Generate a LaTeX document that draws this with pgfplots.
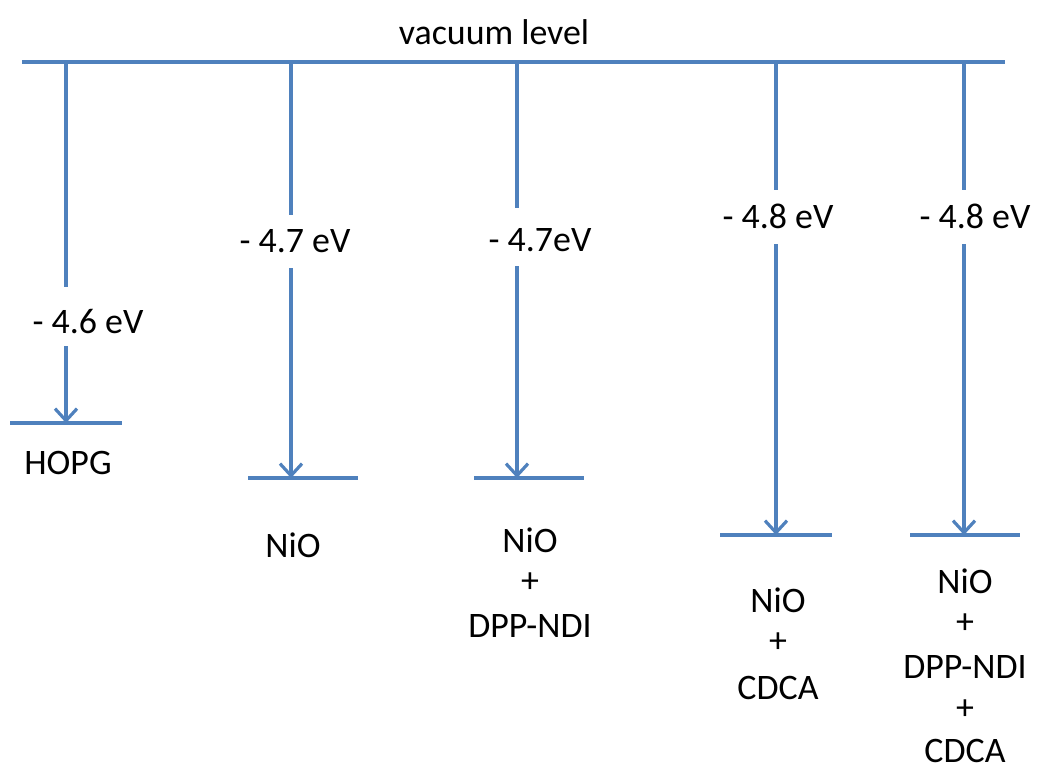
\documentclass[border=0pt]{standalone}
\usepackage{pgfplots}
\pgfplotsset{compat=1.18}
\usepackage{fontspec}
\setmainfont{Carlito}
\usetikzlibrary{arrows.meta}
\definecolor{lvl}{HTML}{4F81BD}
\tikzset{lab/.style={font=\fontsize{36}{40}\selectfont, text=black, inner sep=0pt},
  lv/.style={lvl, line width=3.2bp, mark=none, solid},
  la/.style={lv, -{Straight Barb[length=12bp,width=22bp,line width=3.2bp]}}}
\begin{document}
\begin{tikzpicture}[x=1bp,y=1bp]
\begin{axis}[
  width=1038bp, height=771bp, scale only axis,
  xmin=0, xmax=1038, ymin=0, ymax=771, y dir=reverse,
  hide axis, clip=false,
]
% vacuum level
\addplot[lv] coordinates {(22,62) (1005,62)};
% HOPG
\addplot[lv] coordinates {(66,62) (66,287)};
\addplot[la] coordinates {(66,346) (66,423)};
\addplot[lv] coordinates {(10,423) (122,423)};
% NiO
\addplot[lv] coordinates {(291,62) (291,215)};
\addplot[la] coordinates {(291,268) (291,478)};
\addplot[lv] coordinates {(248,478) (358,478)};
% NiO + DPP-NDI
\addplot[lv] coordinates {(517,62) (517,208)};
\addplot[la] coordinates {(517,266) (517,478)};
\addplot[lv] coordinates {(474,478) (584,478)};
% NiO + CDCA
\addplot[lv] coordinates {(776,62) (776,190)};
\addplot[la] coordinates {(776,244) (776,535)};
\addplot[lv] coordinates {(720,535) (832,535)};
% NiO + DPP-NDI + CDCA
\addplot[lv] coordinates {(964,62) (964,190)};
\addplot[la] coordinates {(964,244) (964,535)};
\addplot[lv] coordinates {(910,535) (1020,535)};
% bounding
\addplot[draw=none, mark=none] coordinates {(0,0) (1038,771)};

\node[lab] at (axis cs:494,32) {vacuum level};
\node[lab] at (axis cs:88,322) {- 4.6 eV};
\node[lab] at (axis cs:68,463) {HOPG};
\node[lab] at (axis cs:295,241) {- 4.7 eV};
\node[lab] at (axis cs:293,545) {NiO};
\node[lab] at (axis cs:540,240) {- 4.7eV};
\node[lab] at (axis cs:530,540) {NiO};
\node[lab] at (axis cs:530,583) {+};
\node[lab] at (axis cs:530,626) {DPP-NDI};
\node[lab] at (axis cs:778,216) {- 4.8 eV};
\node[lab] at (axis cs:778,600) {NiO};
\node[lab] at (axis cs:778,643) {+};
\node[lab] at (axis cs:778,688) {CDCA};
\node[lab] at (axis cs:975,216) {- 4.8 eV};
\node[lab] at (axis cs:965,581) {NiO};
\node[lab] at (axis cs:965,624) {+};
\node[lab] at (axis cs:965,667) {DPP-NDI};
\node[lab] at (axis cs:965,710) {+};
\node[lab] at (axis cs:965,751) {CDCA};
\end{axis}
\end{tikzpicture}
\end{document}
